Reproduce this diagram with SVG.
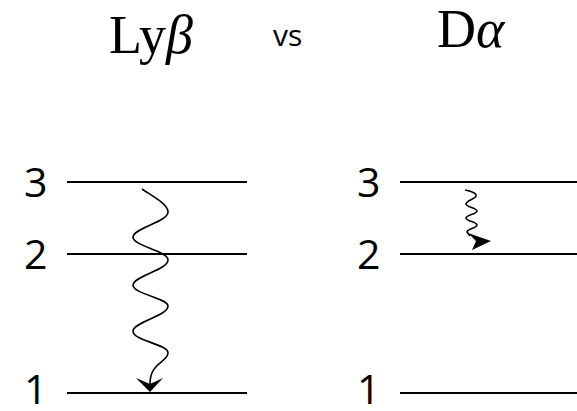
<svg xmlns="http://www.w3.org/2000/svg" width="577" height="411" viewBox="0 0 577 411">
<style>
.lvl{stroke:#000;stroke-width:2;fill:none}
.wave{stroke:#000;stroke-width:1.6;fill:none}
.num{font-family:"Open Sans","Liberation Sans",sans-serif;font-size:41px;fill:#000}
.title{font-family:"Liberation Serif","Times New Roman",serif;font-size:54px;fill:#000}
.vs{font-family:"Open Sans","Liberation Sans",sans-serif;font-size:30px;fill:#000}
</style>
<rect width="577" height="411" fill="#fff"/>
<g id="title-lyb"><text class="title" x="109" y="53">Ly<tspan font-style="italic">β</tspan></text></g>
<g id="title-vs"><text class="vs" x="273" y="46">vs</text></g>
<g id="title-da"><text class="title" x="437" y="47">D<tspan font-style="italic">α</tspan></text></g>
<g id="left-level3"><line class="lvl" x1="67" y1="182" x2="247" y2="182"/><text class="num" x="24" y="197">3</text></g>
<g id="left-level2"><line class="lvl" x1="67" y1="254" x2="247" y2="254"/><text class="num" x="24" y="269">2</text></g>
<g id="left-level1"><line class="lvl" x1="67" y1="393" x2="247" y2="393"/><text class="num" x="24" y="404">1</text></g>
<g id="right-level3"><line class="lvl" x1="400" y1="182" x2="577" y2="182"/><text class="num" x="357" y="197">3</text></g>
<g id="right-level2"><line class="lvl" x1="400" y1="254" x2="577" y2="254"/><text class="num" x="357" y="269">2</text></g>
<g id="right-level1"><line class="lvl" x1="400" y1="393" x2="577" y2="393"/><text class="num" x="357" y="404">1</text></g>
<g id="connectors">
<path class="wave" d="M142,189 C152,196 168,204 168,212 C168,222 133,228 133,237 C133,246 168,251 168,260 C168,270 133,276 133,285 C133,294 168,298 168,306 C168,316 133,322 133,331 C133,341 168,344 168,353 C168,362 150,362 150,384"/>
<polygon points="150,392 136,378 150,384 163,378" fill="#000"/>
<path class="wave" d="M465,190 C470,191 477,193 476,196 C475,199 466,201 466,204 C466,207 477,208 477,211 C477,214 466,215 466,218 C466,221 477,222 477,225 C477,228 467,229 467,232 L470,236"/>
<polygon points="468,233 491,241 472,250 476,241" fill="#000"/>
</g>
</svg>
